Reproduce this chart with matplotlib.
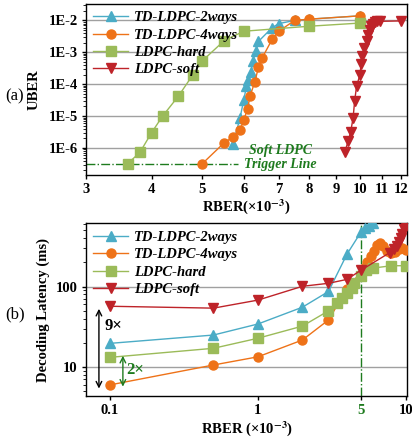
import matplotlib
matplotlib.use("Agg")
import matplotlib.pyplot as plt
from matplotlib.ticker import FixedLocator, NullLocator, NullFormatter, FixedFormatter

plt.rcParams['font.family'] = ['Liberation Serif', 'DejaVu Serif']
plt.rcParams['font.weight'] = 'bold'
plt.rcParams['mathtext.fontset'] = 'stix'

C_2W = '#4BACC6'
C_4W = '#EE7218'
C_HARD = '#9BBB59'
C_SOFT = '#BE2329'
C_TRIG = '#1E7B1E'

# ---- (a) UBER vs RBER (x1e-3)
a_2w_x = [5.72, 5.9, 6.0, 6.07, 6.1, 6.2, 6.24, 6.33, 6.4, 6.8, 7.0, 7.5, 8.0, 10.0]
a_2w_y = [1.3e-6, 8.5e-6, 3.2e-5, 8.5e-5, 1.4e-4, 2.5e-4, 5.5e-4, 1.1e-3, 2.2e-3, 6e-3, 8e-3, 1e-2, 1.1e-2, 1.4e-2]
a_4w_x = [5.0, 5.5, 5.72, 5.9, 6.0, 6.1, 6.17, 6.3, 6.4, 6.5, 6.8, 7.0, 7.5, 8.0, 10.0]
a_4w_y = [3.2e-7, 1.43e-6, 2.2e-6, 3.6e-6, 7.4e-6, 1.7e-5, 4.3e-5, 1.2e-4, 3.4e-4, 6.5e-4, 2.6e-3, 4.6e-3, 1e-2, 1.1e-2, 1.4e-2]
a_hard_x = [3.6, 3.8, 4.0, 4.2, 4.5, 4.8, 5.0, 5.5, 6.0, 8.0, 10.0]
a_hard_y = [3.2e-7, 7.2e-7, 3e-6, 1e-5, 4.2e-5, 2e-4, 5.4e-4, 2.3e-3, 4.6e-3, 6.6e-3, 8.3e-3]
a_soft_x = [9.36, 9.5, 9.6, 9.7, 9.77, 9.85, 10.0, 10.05, 10.1, 10.2, 10.3, 10.35, 10.45, 10.5, 10.6, 10.7, 10.8, 10.9, 12.0]
a_soft_y = [7.5e-7, 1.7e-6, 3.2e-6, 8.5e-6, 3e-5, 8.5e-5, 2e-4, 4.2e-4, 7.6e-4, 1.4e-3, 2.3e-3, 3.5e-3, 5e-3, 6.5e-3, 7.8e-3, 9e-3, 9.3e-3, 9.4e-3, 9.7e-3]
trigger_uber = 3.2e-7
a_xticks = [3, 4, 5, 6, 7, 8, 9, 10, 11, 12]
a_yticks = [1e-6, 1e-5, 1e-4, 1e-3, 1e-2]
a_ylabels = ['1E-6', '1E-5', '1E-4', '1E-3', '1E-2']

# ---- (b) latency vs RBER (x1e-3)
b_2w_x = [0.1, 0.5, 1.0, 2.0, 3.0, 4.0, 5.0, 5.3, 5.6, 6.0]
b_2w_y = [19.7, 25, 34.3, 55.5, 87, 253, 484, 530, 570, 620]
b_4w_x = [0.1, 0.5, 1.0, 2.0, 3.0, 4.0, 5.2, 5.5, 5.8, 6.1, 6.4, 6.7, 7.0, 7.5, 8.0, 8.5, 9.0, 9.5, 10.0]
b_4w_y = [6.0, 10.6, 13.4, 21.7, 38.5, 93, 170, 205, 240, 280, 330, 345, 320, 280, 265, 270, 290, 300, 285]
b_hard_x = [0.1, 0.5, 1.0, 2.0, 3.0, 3.4, 3.7, 4.0, 4.3, 4.46, 5.0, 5.4, 6.0, 8.0, 10.0]
b_hard_y = [13.2, 17.1, 22.8, 32.3, 50, 62, 72, 83, 95, 110, 136, 161, 170, 182, 182]
b_soft_x = [0.1, 0.5, 1.0, 2.0, 3.0, 4.0, 5.0, 7.8, 8.3, 8.7, 9.0, 9.3, 9.5, 9.7, 9.9, 10.1]
b_soft_y = [57, 54, 68, 101, 110, 123, 161, 265, 290, 320, 360, 400, 450, 520, 580, 640]
b_xticks = [0.1, 1, 5, 10]
b_xlabels = ['0.1', '1', '5', '10']
b_yticks = [10, 100]
trigger_rber = 5

labels = ['TD-LDPC-2ways', 'TD-LDPC-4ways', 'LDPC-hard', 'LDPC-soft']
colors = [C_2W, C_4W, C_HARD, C_SOFT]
markers = ['^', 'o', 's', 'v']

fig = plt.figure(figsize=(4.12, 4.41), dpi=100)
ax1 = fig.add_axes([0.209, 0.604, 0.779, 0.387])
ax2 = fig.add_axes([0.209, 0.102, 0.779, 0.392])

fs = 10.5
ms = 6.5
leg_font = dict(family='Liberation Serif', weight='bold', style='italic', size=fs)

# (a)
series_a = [(a_2w_x, a_2w_y), (a_4w_x, a_4w_y), (a_hard_x, a_hard_y), (a_soft_x, a_soft_y)]
for (x, y), lab, c, m in zip(series_a, labels, colors, markers):
    ax1.plot(x, y, color=c, marker=m, ms=ms, lw=1, label=lab, zorder=3)
ax1.plot([3, 5.85], [trigger_uber, trigger_uber], color=C_TRIG, ls='-.', lw=1, zorder=2)
ax1.text(7.05, 5.1e-7, 'Soft LDPC\nTrigger Line', color=C_TRIG, ha='center', va='center',
         fontsize=10, fontweight='bold', style='italic', linespacing=1.1)
ax1.set_xscale('log')
ax1.set_yscale('log')
ax1.set_xlim(3, 12.3)
ax1.set_ylim(1.45e-7, 0.033)
ax1.xaxis.set_major_locator(FixedLocator(a_xticks))
ax1.xaxis.set_major_formatter(FixedFormatter([str(t) for t in a_xticks]))
ax1.xaxis.set_minor_locator(NullLocator())
ax1.yaxis.set_major_locator(FixedLocator(a_yticks))
ax1.yaxis.set_major_formatter(FixedFormatter(a_ylabels))
ax1.yaxis.set_minor_formatter(NullFormatter())
ax1.grid(axis='y', which='major', color='#A0A0A0', lw=1, zorder=0)
ax1.set_ylabel('UBER', fontsize=fs, fontweight='bold')
ax1.yaxis.set_label_coords(-0.143, 0.5)
ax1.set_xlabel(r'RBER(×10$^{\mathbf{-3}}$)', fontsize=fs, fontweight='bold', labelpad=1)
ax1.legend(loc='upper left', frameon=False, prop=leg_font, handlelength=2.4,
           handletextpad=0.4, labelspacing=0.28, borderaxespad=0.3, borderpad=0.2)
fig.text(0.012, 1 - 96.7 / 441, '(a)', fontsize=12, fontweight='normal', va='center')

# (b)
series_b = [(b_2w_x, b_2w_y), (b_4w_x, b_4w_y), (b_hard_x, b_hard_y), (b_soft_x, b_soft_y)]
for (x, y), lab, c, m in zip(series_b, labels, colors, markers):
    ax2.plot(x, y, color=c, marker=m, ms=ms, lw=1, label=lab, zorder=3)
ax2.axvline(trigger_rber, color=C_TRIG, ls='-.', lw=1, zorder=2)
ax2.set_xscale('log')
ax2.set_yscale('log')
ax2.set_xlim(0.0688, 10.2)
ax2.set_ylim(4.36, 616)
ax2.xaxis.set_major_locator(FixedLocator(b_xticks))
ax2.xaxis.set_major_formatter(FixedFormatter(b_xlabels))
ax2.xaxis.set_minor_locator(NullLocator())
ax2.yaxis.set_major_locator(FixedLocator(b_yticks))
ax2.yaxis.set_major_formatter(FixedFormatter(['10', '100']))
ax2.yaxis.set_minor_formatter(NullFormatter())
ax2.get_xticklabels()[2].set_color(C_TRIG)
ax2.grid(axis='y', which='major', color='#A0A0A0', lw=1, zorder=0)
ax2.set_ylabel('Decoding Latency (ms)', fontsize=fs, fontweight='bold')
ax2.yaxis.set_label_coords(-0.112, 0.5)
ax2.set_xlabel(r'RBER (×10$^{\mathbf{-3}}$)', fontsize=fs, fontweight='bold', labelpad=1)
ax2.legend(loc='upper left', frameon=False, prop=leg_font, handlelength=2.4,
           handletextpad=0.4, labelspacing=0.3, borderaxespad=0.3, borderpad=0.2)
fig.text(0.012, 1 - 314 / 441, '(b)', fontsize=12, fontweight='normal', va='center')

ax2.annotate('', xy=(0.084, 5.4), xytext=(0.084, 53),
             arrowprops=dict(arrowstyle='<->', color='black', lw=1, shrinkA=0, shrinkB=0))
ax2.text(0.091, 32, '9×', fontsize=12, fontweight='bold', va='center', ha='left')
ax2.annotate('', xy=(0.122, 5.7), xytext=(0.122, 13.8),
             arrowprops=dict(arrowstyle='<->', color=C_TRIG, lw=1, shrinkA=0, shrinkB=0))
ax2.text(0.128, 9.3, '2×', fontsize=12, fontweight='bold', va='center', ha='left', color=C_TRIG)

for ax in (ax1, ax2):
    ax.tick_params(axis='both', which='major', labelsize=fs, length=3, width=1, pad=3)
    ax.tick_params(axis='y', which='minor', length=2)
    for lab in ax.get_xticklabels() + ax.get_yticklabels():
        lab.set_fontweight('bold')
    for s in ax.spines.values():
        s.set_linewidth(1)

fig.savefig('out.png', dpi=100)
